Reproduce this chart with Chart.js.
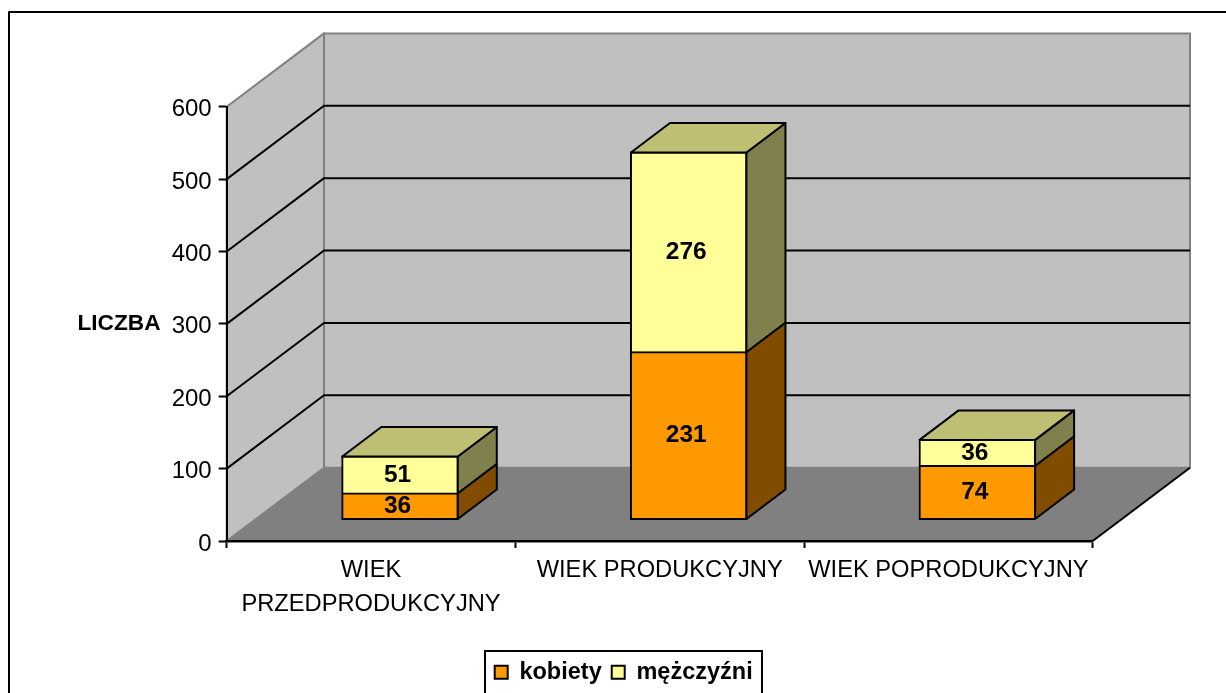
<!DOCTYPE html>
<html>
<head>
<meta charset="utf-8">
<title>Liczba ludności</title>
<script src="https://cdn.jsdelivr.net/npm/chart.js@4"></script>
<style>
html,body{margin:0;padding:0;background:#fff;overflow:hidden;}
canvas{display:block;}
</style>
</head>
<body>
<canvas id="myChart" width="1226" height="693"></canvas>
<script>
const categories = [['WIEK','PRZEDPRODUKCYJNY'], 'WIEK PRODUKCYJNY', 'WIEK POPRODUKCYJNY'];
const kobiety = [36, 231, 74];
const mezczyzni = [51, 276, 36];
const yTicks = [0, 100, 200, 300, 400, 500, 600];
const yTitle = 'LICZBA';

const FONT = '"Liberation Sans", Arial, sans-serif';
const frontColors = ['#FF9900', '#FFFF99'];
const sideColors = ['#804D00', '#80804D'];
const topColors = ['#BF7300', '#BFBF73'];

// how the 3d box is laid out, in pixels
const wallDepth = {x: 97.3, y: -73.3};
const barShift = {x: 29, y: -21.5};
const barDepth = {x: 39, y: -29.5};

function poly(ctx, pts, fill, stroke, lw){
    ctx.beginPath();
    pts.forEach((p, i) => i ? ctx.lineTo(p[0], p[1]) : ctx.moveTo(p[0], p[1]));
    ctx.closePath();
    if(fill){
        ctx.fillStyle = fill;
        ctx.fill();
    }
    if(stroke){
        ctx.strokeStyle = stroke;
        ctx.lineWidth = lw;
        ctx.stroke();
    }
}

const box3d = {
    id: 'box3d',
    beforeDraw(chart){
        const ctx = chart.ctx;
        const a = chart.chartArea;
        const y = chart.scales.y;
        const dx = wallDepth.x, dy = wallDepth.y;
        ctx.save();
        ctx.lineJoin = 'round';
        // outer frame runs off the picture on the right and at the bottom
        ctx.strokeStyle = '#000';
        ctx.lineWidth = 2;
        ctx.strokeRect(9, 12, 1400, 900);
        // side wall, back wall, floor
        poly(ctx, [[a.left, a.top], [a.left + dx, a.top + dy], [a.left + dx, a.bottom + dy], [a.left, a.bottom]], '#C0C0C0', '#808080', 2);
        poly(ctx, [[a.left + dx, a.top + dy], [a.right + dx, a.top + dy], [a.right + dx, a.bottom + dy], [a.left + dx, a.bottom + dy]], '#C0C0C0', '#808080', 2);
        poly(ctx, [[a.left, a.bottom], [a.left + dx, a.bottom + dy], [a.right + dx, a.bottom + dy], [a.right, a.bottom]], '#808080');
        // grid lines round the walls
        ctx.strokeStyle = '#000';
        ctx.lineWidth = 2;
        yTicks.forEach(v => {
            if(v === 0 || v === 600) return;
            const py = y.getPixelForValue(v);
            ctx.beginPath();
            ctx.moveTo(a.left, py);
            ctx.lineTo(a.left + dx, py + dy);
            ctx.lineTo(a.right + dx, py + dy);
            ctx.stroke();
        });
        // front right edge of the floor
        ctx.beginPath();
        ctx.moveTo(a.right, a.bottom);
        ctx.lineTo(a.right + dx, a.bottom + dy);
        ctx.stroke();
        ctx.restore();
    },
    beforeDatasetDraw(chart){
        chart.ctx.save();
        chart.ctx.translate(barShift.x, barShift.y);
    },
    afterDatasetDraw(chart, args){
        const ctx = chart.ctx;
        const i = args.index;
        ctx.lineJoin = 'round';
        args.meta.data.forEach(bar => {
            const l = bar.x - bar.width / 2;
            const r = bar.x + bar.width / 2;
            const dx = barDepth.x, dy = barDepth.y;
            poly(ctx, [[r, bar.y], [r + dx, bar.y + dy], [r + dx, bar.base + dy], [r, bar.base]], sideColors[i], '#000', 2);
            if(i === chart.data.datasets.length - 1){
                poly(ctx, [[l, bar.y], [l + dx, bar.y + dy], [r + dx, bar.y + dy], [r, bar.y]], topColors[i], '#000', 2);
            }
        });
        ctx.restore();
    },
    afterDraw(chart){
        const ctx = chart.ctx;
        const y = chart.scales.y;
        ctx.save();
        ctx.fillStyle = '#000';
        ctx.textAlign = 'center';
        ctx.textBaseline = 'middle';
        // values on the bars
        ctx.font = 'bold 24.5px ' + FONT;
        chart.data.datasets.forEach((ds, i) => {
            chart.getDatasetMeta(i).data.forEach((bar, j) => {
                ctx.fillText(ds.data[j], bar.x + barShift.x - 2.5, (bar.y + bar.base) / 2 + barShift.y);
            });
        });
        // axis title sits flat, left of the tick labels
        ctx.font = 'bold 22.7px ' + FONT;
        ctx.fillText(yTitle, 119, y.getPixelForValue(300));
        // legend frame, open at the bottom of the picture
        ctx.strokeStyle = '#000';
        ctx.lineWidth = 2;
        ctx.strokeRect(485, 651, 277, 100);
        ctx.restore();
    }
};

Chart.defaults.font.family = FONT;
Chart.defaults.color = '#000';

const canvas = document.getElementById('myChart');
const ctx = canvas.getContext('2d');
new Chart(ctx, {
    type: 'bar',
    data: {
        labels: categories,
        datasets: [
            {label: 'kobiety', data: kobiety, backgroundColor: frontColors[0], borderColor: '#000', borderWidth: 2, inflateAmount: 1, borderSkipped: false, barThickness: 115.5, clip: false},
            {label: 'mężczyźni', data: mezczyzni, backgroundColor: frontColors[1], borderColor: '#000', borderWidth: 2, inflateAmount: 1, borderSkipped: 'bottom', barThickness: 115.5, clip: false},
        ],
    },
    options: {
        responsive: false,
        animation: false,
        layout: {padding: {left: 154.7, right: 133.3, top: 106.7, bottom: -1}},
        plugins: {
            tooltip: {enabled: false},
            legend: {
                position: 'bottom',
                labels: {
                    boxWidth: 13,
                    boxHeight: 13,
                    padding: 10,
                    font: {size: 23.5, weight: 'bold'},
                },
            },
        },
        scales: {
            x: {
                stacked: true,
                afterFit(scale){ scale.height = 109.5; },
                border: {display: true, color: '#000', width: 2.5},
                grid: {drawOnChartArea: false, drawTicks: true, tickLength: 7, tickColor: '#000', tickWidth: 2},
                ticks: {
                    autoSkip: false,
                    maxRotation: 0,
                    padding: 6,
                    color: '#000',
                    font: {size: 23.7, lineHeight: 1.42},
                },
            },
            y: {
                stacked: true,
                min: 0,
                max: 600,
                afterFit(scale){ scale.width = 72; },
                afterBuildTicks(scale){ scale.ticks = yTicks.map(v => ({value: v})); },
                border: {display: true, color: '#000', width: 2},
                grid: {drawOnChartArea: false, drawTicks: true, tickLength: 8, tickColor: '#000', tickWidth: 2},
                ticks: {padding: 7, labelOffset: 3, color: '#000', font: {size: 24}},
            },
        },
    },
    plugins: [box3d],
});
</script>
</body>
</html>
